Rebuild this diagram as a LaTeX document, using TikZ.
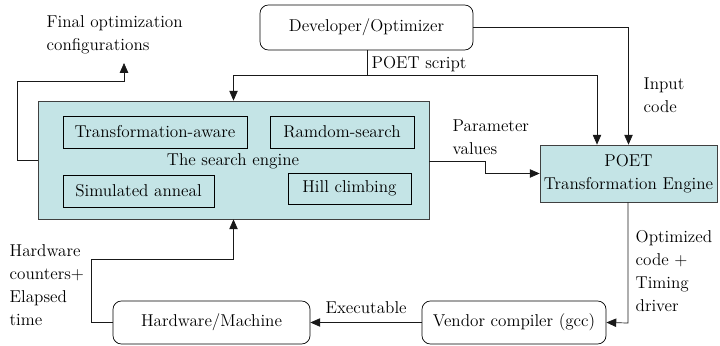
\documentclass[tikz,border=0pt]{standalone}
\usetikzlibrary{arrows.meta}

\begin{document}
\begin{tikzpicture}[x=0.025cm, y=-0.025cm,
    every node/.style={font=\fontsize{12.2}{16.4}\selectfont, inner sep=1pt},
    roundbox/.style={draw=black, rounded corners=6pt, line width=0.5pt, align=center},
    enginebox/.style={draw=black!75, fill=CE, line width=0.5pt, align=center},
    algobox/.style={draw=black, fill=CE, line width=0.5pt},
    flow/.style={draw=black!90, line width=0.5pt, -{Triangle[length=7pt, width=6pt]}},
    note/.style={align=left, anchor=west}]
    \definecolor{CE}{HTML}{C4E4E6}

    \useasboundingbox (0,0) rectangle (720,346);

    \coordinate (script_split) at (367,75);
    \coordinate (script_drop) at (597,75);
    \coordinate (final_bend) at (17,81);
    \coordinate (final_tip) at (124,63);
    \coordinate (param_bend) at (485,161);
    \coordinate (opt_bend) at (628,323);
    \coordinate (hw_bend) at (91,259);

    \node[roundbox, minimum width=5.325cm, minimum height=1.125cm] (developer) at (366.5,27.5) {Developer/Optimizer};
    \node[enginebox, minimum width=9.775cm, minimum height=2.95cm] (search) at (233.5,160) {};
    \node (search_label) at (233,161) {The search engine};
    \node[algobox, minimum width=4.6cm, minimum height=0.8cm] (transaware) at (155,132) {Transformation-aware};
    \node[algobox, minimum width=3.6cm, minimum height=0.8cm] (random) at (342,132) {Ramdom-search};
    \node[algobox, minimum width=3.775cm, minimum height=0.8cm] (anneal) at (138.5,191) {Simulated anneal};
    \node[algobox, minimum width=3.075cm, minimum height=0.775cm] (hill) at (349.5,188.5) {Hill climbing};
    \node[enginebox, minimum width=4.425cm, minimum height=1.425cm] (poet) at (628.5,173.5) {POET\\Transformation Engine};
    \node[roundbox, minimum width=4.6cm, minimum height=1.075cm] (vendor) at (514,322.5) {Vendor compiler (gcc)};
    \node[roundbox, minimum width=4.925cm, minimum height=1.075cm] (hardware) at (211.5,322.5) {Hardware/Machine};

    % connectors
    \path[flow] (developer.south -| script_split) -- (script_split) -| (search.north);
    \path[flow] (script_split) -- (script_drop) -- (script_drop |- poet.north);
    \path[flow] (developer.east) -| (poet.north);
    \path[flow] (search.west) -| (final_bend) -| (final_tip);
    \path[flow] (search.east |- param_bend) -- (param_bend) |- (poet.west);
    \path[flow] (poet.south -| opt_bend) -- (opt_bend) -- (vendor.east);
    \path[flow] (vendor.west) -- (hardware.east);
    \path[flow] (hardware.west) -| (hw_bend) -| (search.south);

    % labels
    \node[note] (final_text) at (45,35) {Final optimization\\configurations};
    \node[note] (script_text) at (370,64) {POET script};
    \node[note] (input_text) at (642,95) {Input\\code};
    \node[note] (param_text) at (451,137) {Parameter\\values};
    \node[note] (opt_text) at (634,271) {Optimized\\code +\\Timing\\driver};
    \node[note] (exec_text) at (324,308) {Executable};
    \node[note] (hw_text) at (8,285) {Hardware\\counters+\\Elapsed\\time};

\end{tikzpicture}
\end{document}
